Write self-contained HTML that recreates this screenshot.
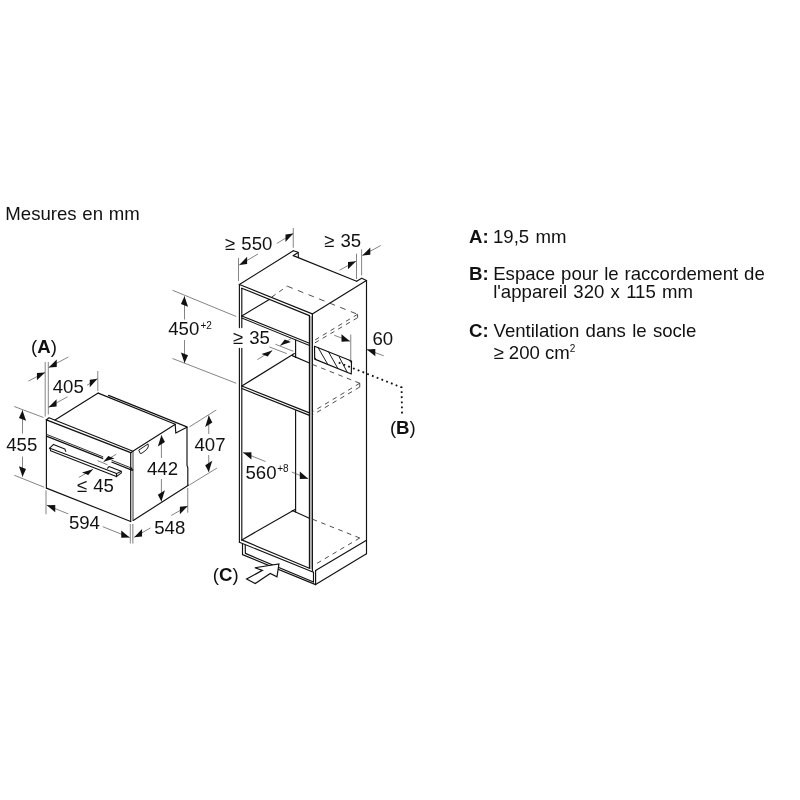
<!DOCTYPE html>
<html><head><meta charset="utf-8"><title>Mesures en mm</title>
<style>
html,body{margin:0;padding:0;background:#fff;}
svg{display:block;will-change:transform;}
text{font-family:"Liberation Sans",Arial,sans-serif;font-size:18.6px;word-spacing:1.1px;fill:#111;}
.sup{font-size:10px;}
.m{stroke:#111;stroke-width:1.15;fill:none;stroke-linecap:round;stroke-linejoin:round;}
.m2{stroke:#111;stroke-width:0.95;fill:none;stroke-linecap:round;stroke-linejoin:round;}
.k{stroke:#111;stroke-width:1.25;fill:none;}
.m3{stroke:#111;stroke-width:1.05;fill:none;stroke-linecap:round;stroke-linejoin:round;}
.g{stroke:#333;stroke-width:1.0;fill:none;}
.t{stroke:#333;stroke-width:0.6;fill:none;}
.t2{stroke:#999;stroke-width:1.3;fill:none;}
.gv{stroke:#555;stroke-width:1.15;fill:none;}
.d1{stroke:#3a3a3a;stroke-width:0.9;fill:none;stroke-dasharray:4.7 4.5;}
.d3{stroke:#3a3a3a;stroke-width:0.9;fill:none;stroke-dasharray:5.8 5.6;}
.d2{stroke:#3a3a3a;stroke-width:0.9;fill:none;stroke-dasharray:4.6 4.4;}
.dot{stroke:#111;stroke-width:1.8;fill:none;stroke-dasharray:1.8 3.3;}
.cw{stroke:#111;stroke-width:1.2;fill:#fff;stroke-linejoin:miter;}
.k2{stroke:#111;stroke-width:1.4;fill:none;stroke-linecap:round;}
.ah{fill:#111;stroke:none;}
</style></head><body>
<svg width="800" height="800" viewBox="0 0 800 800">
<rect width="800" height="800" fill="#fff"/>
<path class="m" d="M46.40 488.10 L46.40 419.80"/>
<path class="k2" d="M46.40 419.80 L130.70 452.70"/>
<path class="m" d="M46.40 419.80 L49.00 417.80 L133.00 451.20 L130.70 452.70"/>
<line class="m" x1="46.40" y1="488.10" x2="130.70" y2="521.50"/>
<line class="m" x1="130.70" y1="452.80" x2="130.70" y2="521.60"/>
<line class="gv" x1="133.00" y1="451.30" x2="133.00" y2="520.50"/>
<line class="g" x1="46.40" y1="434.30" x2="103.20" y2="456.90"/>
<line class="k" x1="46.40" y1="436.10" x2="103.20" y2="458.70"/>
<line class="g" x1="111.50" y1="460.20" x2="131.50" y2="468.10"/>
<line class="k" x1="111.50" y1="462.00" x2="132.50" y2="470.30"/>
<line class="k" x1="130.70" y1="467.60" x2="133.00" y2="470.40"/>
<line class="m" x1="55.00" y1="420.00" x2="98.20" y2="393.10"/>
<line class="m" x1="98.20" y1="393.10" x2="175.20" y2="424.30"/>
<line class="m" x1="108.50" y1="395.40" x2="186.90" y2="426.90"/>
<path class="m" d="M175.20 424.30 L175.80 433.10 L186.90 427.30"/>
<line class="m" x1="133.20" y1="451.00" x2="175.00" y2="424.40"/>
<path class="m" d="M187.00 427.00 L187.00 465.40 L187.80 467.80 L187.80 485.30"/>
<line class="m" x1="133.20" y1="520.50" x2="188.30" y2="485.20"/>
<path class="m2" d="M139.1 449.9 L148.1 443.9 Q149.2 446.8 146.6 449.6 L141.9 453.2 Q139.9 454.4 139.6 452.4 Z"/>
<path class="m3" d="M49.40 448.30 L53.50 444.40 L64.80 449.00 L65.80 451.40"/>
<path class="m3" d="M50.00 448.20 L50.60 450.80 L116.40 476.60 L121.40 472.80 L121.20 471.20 L109.00 466.60 L107.40 468.30"/>
<line class="m3" x1="50.00" y1="448.20" x2="116.60" y2="473.60"/>
<line class="m3" x1="116.60" y1="473.60" x2="121.20" y2="471.20"/>
<line class="m" x1="116.60" y1="473.60" x2="116.40" y2="476.60"/>
<line class="t" x1="45.20" y1="362.00" x2="45.20" y2="416.50"/>
<line class="t" x1="48.30" y1="362.00" x2="48.30" y2="414.50"/>
<line class="t" x1="28.50" y1="381.00" x2="45.00" y2="372.50"/>
<polygon class="ah" points="45.00,372.50 36.91,380.37 36.91,372.97"/>
<line class="t" x1="68.30" y1="357.00" x2="48.70" y2="367.50"/>
<polygon class="ah" points="48.70,367.50 56.72,366.90 56.72,359.50"/>
<line class="t" x1="67.50" y1="396.75" x2="48.60" y2="407.30"/>
<polygon class="ah" points="48.60,407.30 56.55,406.56 56.55,399.16"/>
<line class="t" x1="87.00" y1="385.30" x2="97.50" y2="378.75"/>
<polygon class="ah" points="97.50,378.75 89.78,387.27 89.78,379.87"/>
<line class="t" x1="97.80" y1="371.00" x2="97.80" y2="391.00"/>
<line class="t" x1="14.25" y1="406.50" x2="43.50" y2="417.50"/>
<line class="t" x1="14.25" y1="475.25" x2="44.25" y2="487.25"/>
<line class="t" x1="22.50" y1="433.50" x2="22.50" y2="410.25"/>
<polygon class="ah" points="22.50,410.25 26.05,420.79 18.95,417.91"/>
<line class="t" x1="22.50" y1="456.50" x2="22.50" y2="476.75"/>
<polygon class="ah" points="22.50,476.75 26.05,469.09 18.95,466.21"/>
<line class="t" x1="78.75" y1="477.50" x2="93.00" y2="469.25"/>
<polygon class="ah" points="93.00,469.25 88.22,475.07 82.02,472.55"/>
<line class="t" x1="116.25" y1="454.25" x2="103.50" y2="461.75"/>
<polygon class="ah" points="103.50,461.75 114.44,458.40 108.24,455.88"/>
<line class="t" x1="97.50" y1="460.60" x2="107.50" y2="464.80"/>
<line class="t" x1="46.00" y1="490.25" x2="46.00" y2="514.25"/>
<line class="t" x1="68.25" y1="513.90" x2="46.80" y2="505.25"/>
<polygon class="ah" points="46.80,505.25 55.24,512.35 55.24,504.95"/>
<line class="t" x1="102.75" y1="526.70" x2="129.70" y2="537.50"/>
<polygon class="ah" points="129.70,537.50 121.25,537.81 121.25,530.41"/>
<line class="t" x1="130.30" y1="524.00" x2="130.30" y2="543.50"/>
<line class="t2" x1="132.80" y1="524.00" x2="132.80" y2="543.50"/>
<line class="t" x1="150.50" y1="527.90" x2="134.20" y2="537.30"/>
<polygon class="ah" points="134.20,537.30 142.08,536.45 142.08,529.05"/>
<line class="t" x1="171.25" y1="515.50" x2="187.75" y2="506.00"/>
<polygon class="ah" points="187.75,506.00 179.86,514.24 179.86,506.84"/>
<line class="t" x1="187.75" y1="488.00" x2="187.75" y2="512.75"/>
<line class="t" x1="161.40" y1="458.00" x2="161.40" y2="435.20"/>
<polygon class="ah" points="161.40,435.20 164.95,442.06 157.85,446.54"/>
<line class="t" x1="161.40" y1="479.00" x2="161.40" y2="501.50"/>
<polygon class="ah" points="161.40,501.50 164.95,490.16 157.85,494.64"/>
<line class="t" x1="189.40" y1="426.90" x2="216.25" y2="410.00"/>
<line class="t" x1="189.40" y1="485.00" x2="216.90" y2="468.10"/>
<line class="t" x1="208.75" y1="434.00" x2="208.75" y2="415.60"/>
<polygon class="ah" points="208.75,415.60 212.30,422.46 205.20,426.94"/>
<line class="t" x1="208.75" y1="455.00" x2="208.75" y2="472.00"/>
<polygon class="ah" points="208.75,472.00 212.30,460.66 205.20,465.14"/>
<rect x="309.9" y="316" width="2.0" height="253" fill="#b4b4b4"/>
<line class="m" x1="239.40" y1="284.50" x2="239.40" y2="327.60"/>
<line class="m" x1="239.40" y1="348.40" x2="239.40" y2="542.30"/>
<line class="m" x1="241.80" y1="288.20" x2="241.80" y2="327.60"/>
<line class="m" x1="241.80" y1="348.40" x2="241.80" y2="539.90"/>
<line class="m" x1="309.40" y1="315.50" x2="309.40" y2="568.20"/>
<line class="m" x1="312.40" y1="313.90" x2="312.40" y2="571.00"/>
<line class="m" x1="239.40" y1="284.50" x2="312.30" y2="313.90"/>
<line class="m" x1="241.80" y1="288.20" x2="309.40" y2="315.60"/>
<line class="m" x1="239.40" y1="284.50" x2="293.30" y2="250.80"/>
<path class="m" d="M293.30 250.80 L298.20 252.30 L298.40 257.60"/>
<line class="m" x1="293.30" y1="255.60" x2="298.20" y2="252.50"/>
<line class="m" x1="293.30" y1="255.60" x2="356.60" y2="281.20"/>
<path class="m" d="M356.60 281.20 L361.70 278.20 L366.50 280.50"/>
<line class="m" x1="366.50" y1="280.50" x2="366.50" y2="553.75"/>
<line class="m" x1="366.00" y1="280.70" x2="312.30" y2="313.90"/>
<line class="m" x1="239.40" y1="542.30" x2="313.50" y2="572.20"/>
<line class="m" x1="241.80" y1="539.90" x2="309.40" y2="568.30"/>
<path class="m" d="M242.50 544.00 L242.50 554.60 L315.60 584.60"/>
<path class="m" d="M245.20 545.20 L245.40 553.40 L313.50 582.00"/>
<line class="m" x1="313.50" y1="572.00" x2="313.50" y2="582.00"/>
<line class="m" x1="315.60" y1="570.60" x2="315.60" y2="584.60"/>
<line class="m" x1="315.60" y1="570.60" x2="366.50" y2="540.25"/>
<line class="m" x1="315.60" y1="584.60" x2="366.50" y2="553.75"/>
<line class="m3" x1="241.80" y1="315.90" x2="309.50" y2="343.30"/>
<line class="m3" x1="241.80" y1="318.00" x2="309.50" y2="345.50"/>
<line class="m" x1="241.80" y1="316.00" x2="269.30" y2="299.40"/>
<line class="m" x1="241.80" y1="386.00" x2="309.50" y2="412.90"/>
<line class="m" x1="241.80" y1="388.50" x2="309.50" y2="415.40"/>
<line class="m" x1="241.80" y1="386.00" x2="294.40" y2="353.60"/>
<line class="m" x1="295.60" y1="340.00" x2="295.60" y2="357.40"/>
<line class="m" x1="292.20" y1="355.60" x2="309.40" y2="363.00"/>
<line class="m" x1="295.60" y1="410.60" x2="295.60" y2="512.00"/>
<line class="m" x1="241.80" y1="539.90" x2="295.40" y2="509.20"/>
<line class="m" x1="292.20" y1="510.60" x2="309.40" y2="518.30"/>
<line class="d2" x1="271.80" y1="297.00" x2="287.30" y2="286.20"/>
<line class="d3" x1="287.30" y1="286.20" x2="357.60" y2="314.30"/>
<line class="d2" x1="357.60" y1="314.30" x2="357.60" y2="317.70"/>
<line class="d2" x1="357.60" y1="314.30" x2="312.80" y2="341.30"/>
<line class="d2" x1="357.60" y1="317.70" x2="312.80" y2="344.10"/>
<line class="d1" x1="312.60" y1="364.50" x2="359.75" y2="383.25"/>
<line class="d2" x1="359.75" y1="383.25" x2="359.75" y2="387.00"/>
<line class="d2" x1="359.75" y1="383.25" x2="312.60" y2="411.75"/>
<line class="d2" x1="359.75" y1="387.00" x2="312.60" y2="414.90"/>
<line class="d1" x1="312.60" y1="519.25" x2="359.75" y2="538.00"/>
<line class="d2" x1="359.75" y1="538.00" x2="315.50" y2="564.25"/>
<path class="m" d="M314.50 346.30 L351.50 361.00 L351.30 374.00 L314.70 359.10 Z"/>
<line class="m2" x1="318.10" y1="347.60" x2="327.50" y2="363.90"/>
<line class="m2" x1="328.60" y1="352.00" x2="337.60" y2="368.00"/>
<line class="m2" x1="339.10" y1="356.80" x2="347.00" y2="371.80"/>
<line class="m2" x1="314.70" y1="357.60" x2="316.20" y2="359.30"/>
<line class="m2" x1="349.40" y1="360.40" x2="351.40" y2="362.80"/>
<line class="t" x1="238.50" y1="258.00" x2="238.50" y2="281.00"/>
<line class="t" x1="293.25" y1="228.00" x2="293.25" y2="247.75"/>
<line class="t" x1="276.75" y1="243.50" x2="293.25" y2="233.50"/>
<polygon class="ah" points="293.25,233.50 285.47,241.92 285.47,234.52"/>
<line class="t" x1="258.00" y1="254.00" x2="239.25" y2="265.00"/>
<polygon class="ah" points="239.25,265.00 247.10,264.10 247.10,256.70"/>
<line class="t" x1="356.50" y1="253.75" x2="356.50" y2="279.00"/>
<line class="t" x1="361.60" y1="249.25" x2="361.60" y2="275.40"/>
<line class="t" x1="339.50" y1="270.25" x2="356.00" y2="261.25"/>
<polygon class="ah" points="356.00,261.25 348.01,269.31 348.01,261.91"/>
<line class="t" x1="380.75" y1="245.50" x2="362.30" y2="255.50"/>
<polygon class="ah" points="362.30,255.50 370.30,254.86 370.30,247.46"/>
<line class="t" x1="172.50" y1="290.25" x2="236.25" y2="316.50"/>
<line class="t" x1="172.50" y1="358.50" x2="236.25" y2="383.25"/>
<line class="t" x1="184.50" y1="319.50" x2="184.50" y2="296.25"/>
<polygon class="ah" points="184.50,296.25 188.05,306.79 180.95,303.91"/>
<line class="t" x1="184.50" y1="340.00" x2="184.50" y2="363.00"/>
<polygon class="ah" points="184.50,363.00 188.05,355.34 180.95,352.46"/>
<line class="t" x1="269.25" y1="346.90" x2="286.75" y2="353.60"/>
<line class="t" x1="275.40" y1="344.25" x2="293.30" y2="351.25"/>
<line class="t" x1="291.10" y1="338.60" x2="280.20" y2="345.60"/>
<polygon class="ah" points="280.20,345.60 290.96,341.94 284.76,339.42"/>
<line class="t" x1="257.40" y1="359.60" x2="272.30" y2="350.40"/>
<polygon class="ah" points="272.30,350.40 267.66,356.44 261.46,353.92"/>
<line class="t" x1="350.75" y1="334.50" x2="350.75" y2="360.00"/>
<line class="t" x1="334.25" y1="335.25" x2="350.00" y2="341.25"/>
<polygon class="ah" points="350.00,341.25 341.50,341.71 341.50,334.31"/>
<line class="t" x1="383.75" y1="355.80" x2="366.80" y2="349.50"/>
<polygon class="ah" points="366.80,349.50 375.33,356.37 375.33,348.97"/>
<line class="t" x1="265.50" y1="461.50" x2="243.00" y2="452.50"/>
<polygon class="ah" points="243.00,452.50 251.45,459.58 251.45,452.18"/>
<line class="t" x1="291.75" y1="472.00" x2="308.25" y2="478.75"/>
<polygon class="ah" points="308.25,478.75 299.83,479.00 299.83,471.60"/>
<path class="dot" d="M338.75 362.60 L401.60 387.40 L402.00 415.50"/>
<path class="cw" d="M246.60 579.00 L255.25 583.50 L270.25 573.40 L277.00 576.75 L278.90 564.00 L254.90 567.75 L262.40 570.40 Z"/>
<text x="5.30" y="220.00" text-anchor="start" style="word-spacing:0.6px">Mesures en mm</text>
<text x="44.00" y="352.50" text-anchor="middle">(<tspan font-weight="bold">A</tspan>)</text>
<text x="68.25" y="393.00" text-anchor="middle">405</text>
<text x="21.75" y="450.50" text-anchor="middle">455</text>
<text x="95.25" y="491.75" text-anchor="middle">≤ 45</text>
<text x="84.40" y="528.50" text-anchor="middle">594</text>
<text x="169.75" y="533.75" text-anchor="middle">548</text>
<text x="162.50" y="475.00" text-anchor="middle">442</text>
<text x="210.00" y="451.25" text-anchor="middle">407</text>
<text x="248.60" y="249.90" text-anchor="middle">≥ 550</text>
<text x="342.60" y="247.30" text-anchor="middle">≥ 35</text>
<text x="183.75" y="335.25" text-anchor="middle">450</text>
<text x="200.50" y="329.30" text-anchor="start" class="sup">+2</text>
<text x="251.25" y="343.80" text-anchor="middle">≥ 35</text>
<text x="382.75" y="344.70" text-anchor="middle">60</text>
<text x="261.00" y="478.50" text-anchor="middle">560</text>
<text x="277.20" y="472.30" text-anchor="start" class="sup">+8</text>
<text x="402.80" y="433.75" text-anchor="middle">(<tspan font-weight="bold">B</tspan>)</text>
<text x="225.75" y="581.20" text-anchor="middle">(<tspan font-weight="bold">C</tspan>)</text>
<text x="469.00" y="242.60" text-anchor="start"><tspan font-weight="bold">A:</tspan></text>
<text x="493.00" y="242.60" text-anchor="start">19,5 mm</text>
<text x="469.00" y="279.50" text-anchor="start"><tspan font-weight="bold">B:</tspan></text>
<text x="493.20" y="279.50" text-anchor="start" style="word-spacing:0.7px">Espace pour le raccordement de</text>
<text x="493.20" y="297.50" text-anchor="start">l'appareil 320 x 115 mm</text>
<text x="469.00" y="337.00" text-anchor="start"><tspan font-weight="bold">C:</tspan></text>
<text x="493.50" y="337.00" text-anchor="start">Ventilation dans le socle</text>
<text x="493.50" y="358.75" text-anchor="start" style="word-spacing:0">≥ 200 cm<tspan class="sup" dy="-6.5">2</tspan></text>
</svg>
</body></html>
